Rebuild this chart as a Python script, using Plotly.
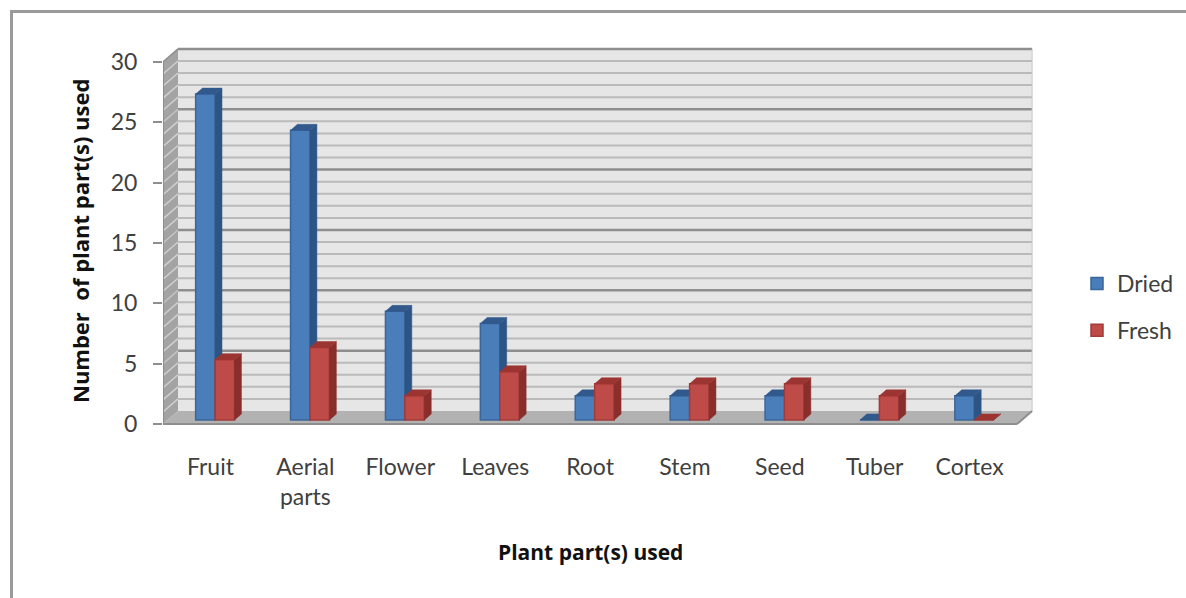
import plotly.graph_objects as go

# ---- data ----
categories = ["Fruit", "Aerial<br>parts", "Flower", "Leaves", "Root", "Stem", "Seed", "Tuber", "Cortex"]
dried = [27, 24, 9, 8, 2, 2, 2, 0, 2]
fresh = [5, 6, 2, 4, 3, 3, 3, 2, 0]
y_ticks = [0, 5, 10, 15, 20, 25, 30]

W, H = 1186, 598
L, R, T, B = 163, 1034, 40, 430      # plot box in px
PX_CAT = 94.9
PX_VAL = 12.07
X_RANGE = [-0.5, -0.5 + (R - L) / PX_CAT]
Y_RANGE = [(424 - B) / PX_VAL, (424 - T) / PX_VAL]

# pseudo-3D projection: depth 0 = front plane, depth 1 = back wall
DX = 15 / PX_CAT
DY = 13 / PX_VAL
BAR_W = 0.205
D0, D1 = 0.31, 0.77


def proj(x, v, d):
    return x + d * DX, v + d * DY


def poly(points):
    xs, ys = [], []
    for x, v, d in points:
        a, b = proj(x, v, d)
        xs.append(a)
        ys.append(b)
    xs.append(xs[0])
    ys.append(ys[0])
    return xs, ys


def polys(items):
    xs, ys = [], []
    for it in items:
        a, b = poly(it)
        xs += a + [None]
        ys += b + [None]
    return xs, ys


def segs(items):
    xs, ys = [], []
    for (x0, v0, d0), (x1, v1, d1) in items:
        a0, b0 = proj(x0, v0, d0)
        a1, b1 = proj(x1, v1, d1)
        xs += [a0, a1, None]
        ys += [b0, b1, None]
    return xs, ys


fig = go.Figure()
XL, XR = -0.5, 8.5
VMAX = y_ticks[-1]


def area(pts, color, xa="x", ya="y"):
    x, y = polys([pts])
    fig.add_trace(go.Scatter(x=x, y=y, mode="lines", fill="toself", fillcolor=color,
                             line=dict(width=0), showlegend=False, hoverinfo="skip",
                             xaxis=xa, yaxis=ya))


def lines(items, color, width):
    x, y = segs(items)
    fig.add_trace(go.Scatter(x=x, y=y, mode="lines", line=dict(color=color, width=width),
                             showlegend=False, hoverinfo="skip"))


# walls
area([(XL, 0, 1), (XR, 0, 1), (XR, VMAX, 1), (XL, VMAX, 1)], "#E6E6E6")
area([(XL, 0, 0), (XL, 0, 1), (XL, VMAX, 1), (XL, VMAX, 0)], "#A3A3A3")
area([(XL, 0, 0), (XR, 0, 0), (XR, 0, 1), (XL, 0, 1)], "#B2B2B2")

minor = [v for v in range(1, VMAX) if v % 5]
major = [v for v in y_ticks if v > 0 and v < VMAX]
lines([((XL, v, 1), (XR, v, 1)) for v in minor], "#BABABA", 2)
lines([((XL, v, 1), (XR, v, 1)) for v in major], "#8E8E8E", 2.5)
lines([((XL, VMAX, 1), (XR, VMAX, 1))], "#8E8E8E", 2.5)
lines([((XL, v, 0), (XL, v, 1)) for v in minor], "#CFCFCF", 1.5)
lines([((XL, v, 0), (XL, v, 1)) for v in major], "#C4C4C4", 1.5)
lines([((XL, VMAX, 0), (XL, VMAX, 1))], "#8E8E8E", 1.5)
lines([((XR, 0, 1), (XR, VMAX, 1))], "#C8C8C8", 1)
lines([((XL, 0, 0), (XR, 0, 0)), ((XR, 0, 0), (XR, 0, 1))], "#8E8E8E", 2)
lines([((XL, 0, 0), (XL, VMAX, 0))], "#8E8E8E", 2)


def series(name, values, offset, front, edge, side, top, xa, ya):
    x0s = [i + offset for i in range(len(values))]
    bx = [proj(i + offset + BAR_W / 2, 0, D0)[0] for i in range(len(values))]
    fig.add_trace(go.Bar(x=bx, y=values, base=[proj(0, 0, D0)[1]] * len(values), width=BAR_W,
                         name=name, marker=dict(color=front, line=dict(color=edge, width=1.5)),
                         legendgroup=name, hovertemplate="%{y}<extra>" + name + "</extra>",
                         xaxis=xa, yaxis=ya))
    sx, sy = polys([[(x + BAR_W, 0, D0), (x + BAR_W, 0, D1), (x + BAR_W, v, D1), (x + BAR_W, v, D0)]
                    for x, v in zip(x0s, values)])
    fig.add_trace(go.Scatter(x=sx, y=sy, mode="lines", fill="toself", fillcolor=side,
                             line=dict(color=side, width=0.5), showlegend=False, hoverinfo="skip",
                             legendgroup=name, xaxis=xa, yaxis=ya))
    tx, ty = polys([[(x, v, D0), (x + BAR_W, v, D0), (x + BAR_W, v, D1), (x, v, D1)]
                    for x, v in zip(x0s, values)])
    fig.add_trace(go.Scatter(x=tx, y=ty, mode="lines", fill="toself", fillcolor=top,
                             line=dict(color=top, width=0.5), showlegend=False, hoverinfo="skip",
                             legendgroup=name, xaxis=xa, yaxis=ya))


series("Dried", dried, -BAR_W, "#4A7EBB", "#3A6699", "#2C5484", "#31598C", "x2", "y2")
series("Fresh", fresh, 0, "#BE4B48", "#A23B39", "#8A2E2C", "#9C3532", "x3", "y3")

frame = "#9A9A9A"


def px(x):
    return (x - L) / (R - L)


def py(y):
    return 1 - (y - T) / (B - T)


fig.update_layout(
    width=W, height=H, autosize=False,
    margin=dict(l=L, r=W - R, t=T, b=H - B, pad=0, autoexpand=False),
    paper_bgcolor="white", plot_bgcolor="white",
    barmode="overlay",
    font=dict(family="Lato, Carlito, sans-serif", size=23, color="#404040"),
    showlegend=True,
    legend=dict(x=px(1077), y=py(262), xanchor="left", yanchor="top", tracegroupgap=14,
                traceorder="grouped", bgcolor="rgba(0,0,0,0)", itemwidth=30,
                font=dict(size=23, color="#404040")),
    xaxis=dict(range=X_RANGE, tickmode="array", tickvals=list(range(len(categories))),
               ticktext=categories, ticks="outside", ticklen=16, tickcolor="rgba(0,0,0,0)",
               showgrid=False, zeroline=False, showline=False, fixedrange=True),
    yaxis=dict(range=Y_RANGE, tickmode="array", tickvals=y_ticks, ticks="outside", ticklen=9,
               tickwidth=2, tickcolor="#8E8E8E", ticklabelstandoff=11,
               showgrid=False, zeroline=False, showline=False, fixedrange=True),
    xaxis2=dict(range=X_RANGE, overlaying="x", visible=False, fixedrange=True),
    yaxis2=dict(range=Y_RANGE, overlaying="y", visible=False, fixedrange=True),
    xaxis3=dict(range=X_RANGE, overlaying="x", visible=False, fixedrange=True),
    yaxis3=dict(range=Y_RANGE, overlaying="y", visible=False, fixedrange=True),
    annotations=[
        dict(text="<b>Plant part(s) used</b>", xref="paper", yref="paper", x=px(590), y=py(552),
             xanchor="center", yanchor="middle", showarrow=False,
             font=dict(family="Open Sans", size=21, color="#111111")),
        dict(text="<b>Number  of plant part(s) used</b>", xref="paper", yref="paper", x=px(80), y=py(241),
             xanchor="center", yanchor="middle", showarrow=False, textangle=-90,
             font=dict(family="Open Sans", size=22, color="#111111")),
    ],
    shapes=[
        dict(type="line", xref="paper", yref="paper", x0=px(10), x1=px(W), y0=py(11.5), y1=py(11.5),
             line=dict(color=frame, width=3)),
        dict(type="line", xref="paper", yref="paper", x0=px(11.5), x1=px(11.5), y0=py(10), y1=py(H),
             line=dict(color=frame, width=3)),
    ],
)

fig.write_html("out.html", config={"displayModeBar": False},
               post_script="document.body.style.margin='0';")
